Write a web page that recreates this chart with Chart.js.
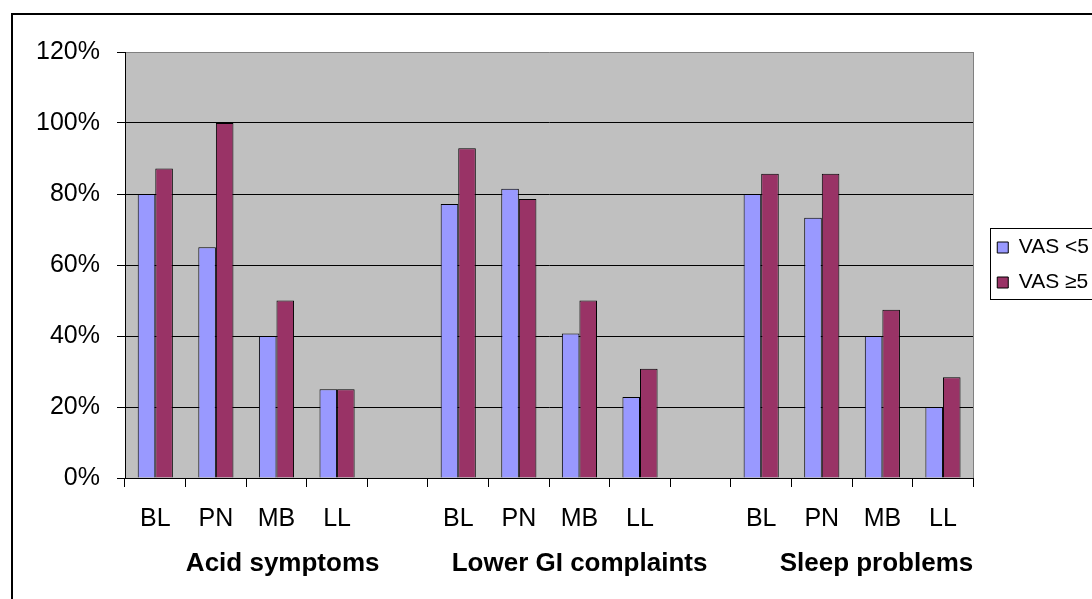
<!DOCTYPE html>
<html>
<head>
<meta charset="utf-8">
<script src="https://cdn.jsdelivr.net/npm/chart.js@4.4.1/dist/chart.umd.min.js"></script>
<style>
  html, body { margin: 0; padding: 0; background: #fff; overflow: hidden; }
  #frame { position: absolute; left: 11px; top: 13px; width: 1200px; height: 700px; border: 2px solid #000; }
  #c { position: absolute; left: 0; top: 0; }
</style>
</head>
<body>
<div id="frame"></div>
<canvas id="c" width="1160" height="599"></canvas>
<script>
// categories: 4 time points per symptom group, blank slot between groups
const categories = ['BL', 'PN', 'MB', 'LL', '', 'BL', 'PN', 'MB', 'LL', '', 'BL', 'PN', 'MB', 'LL'];
const groups = ['Acid symptoms', 'Lower GI complaints', 'Sleep problems'];
const seriesNames = ['VAS <5', 'VAS \u22655'];

// percent of patients
const vasBelow5 = [80, 65, 40, 25, null, 77.2, 81.5, 40.7, 22.8, null, 80, 73.3, 40, 20];
const vasAtLeast5 = [87.2, 100, 50, 25, null, 92.9, 78.6, 50, 30.8, null, 85.7, 85.7, 47.4, 28.4];

const yMax = 120;
const yStep = 20;

const FONT = "'Liberation Sans', Arial, sans-serif";

// grey plot area with a darker edge on top/right, like the old Excel look
const plotBackground = {
  id: 'plotBackground',
  beforeDraw(chart) {
    const { ctx, chartArea: a } = chart;
    ctx.save();
    ctx.fillStyle = '#C0C0C0';
    ctx.fillRect(a.left, a.top, a.right - a.left, a.bottom - a.top);
    ctx.restore();
  },
  beforeDatasetsDraw(chart) {
    const { ctx, chartArea: a } = chart;
    const x = Math.round(a.right) + 0.5;
    ctx.save();
    ctx.strokeStyle = '#808080';
    ctx.lineWidth = 1;
    ctx.beginPath();
    ctx.moveTo(x, a.top);
    ctx.lineTo(x, a.bottom);
    ctx.stroke();
    ctx.restore();
  }
};

// push legend a little away from the plot and draw a box round it
const legendBox = {
  id: 'legendBox',
  afterLayout(chart) {
    chart.legend.left += 10;
    chart.legend.right += 10;
  },
  afterDraw(chart) {
    const lg = chart.legend;
    const pad = lg.options.labels.padding;
    const itemH = lg.options.labels.font.size;
    const n = lg.legendItems.length;
    const y0 = (lg.top + pad + lg.bottom - n * (itemH + pad)) / 2;
    const top = Math.round(y0 - 9) + 0.5;
    const bottom = Math.round(y0 + (n - 1) * (itemH + pad) + itemH + 6) + 0.5;
    const left = Math.round(lg.left + pad - 7) + 0.5;
    const ctx = chart.ctx;
    ctx.save();
    ctx.strokeStyle = '#000';
    ctx.lineWidth = 1;
    ctx.strokeRect(left, top, chart.width - left + 20, bottom - top);
    ctx.restore();
  }
};

new Chart(document.getElementById('c'), {
  type: 'bar',
  data: {
    labels: categories,
    datasets: [
      {
        label: seriesNames[0],
        data: vasBelow5,
        backgroundColor: '#9999FF',
        borderColor: '#000000',
        borderWidth: 1,
        categoryPercentage: 0.58,
        barPercentage: 1.0
      },
      {
        label: seriesNames[1],
        data: vasAtLeast5,
        backgroundColor: '#993366',
        borderColor: '#000000',
        borderWidth: 1,
        categoryPercentage: 0.58,
        barPercentage: 1.0
      }
    ]
  },
  options: {
    responsive: false,
    animation: false,
    layout: { padding: { left: 36, top: 52, right: 71, bottom: 0 } },
    plugins: {
      tooltip: { enabled: false },
      legend: {
        position: 'right',
        fullSize: false,
        labels: {
          boxWidth: 11,
          boxHeight: 11,
          padding: 14,
          color: '#000',
          font: { family: FONT, size: 21 }
        }
      }
    },
    scales: {
      x: {
        grid: {
          drawOnChartArea: false,
          drawTicks: true,
          tickLength: 9,
          color: '#000'
        },
        border: { color: '#000', width: 1 },
        ticks: {
          color: '#000',
          padding: 17,
          maxRotation: 0,
          autoSkip: false,
          font: { family: FONT, size: 25 }
        },
        title: {
          display: true,
          text: groups.join('          '),
          align: 'end',
          color: '#000',
          padding: { top: 0, bottom: 20 },
          font: { family: FONT, size: 26, weight: 'bold' }
        },
        afterFit(scale) { scale.height = 121; }
      },
      y: {
        min: 0,
        max: yMax,
        grid: {
          color: ctx => (ctx.tick && ctx.tick.value === yMax ? '#808080' : '#000'),
          tickColor: '#000',
          tickLength: 8,
          lineWidth: 1
        },
        border: { color: '#000', width: 1 },
        ticks: {
          stepSize: yStep,
          color: '#000',
          padding: 17,
          font: { family: FONT, size: 25 },
          callback: v => v + '%'
        },
        afterFit(scale) { scale.width = 89; }
      }
    }
  },
  plugins: [plotBackground, legendBox]
});
</script>
</body>
</html>
